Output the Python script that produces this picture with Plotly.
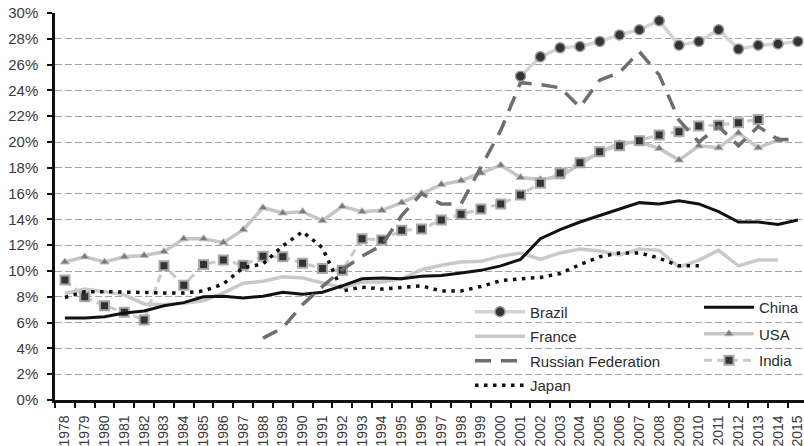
import plotly.graph_objects as go

years = [str(y) for y in range(1978, 2016)]
N = None

brazil = [N]*23 + [25.1, 26.6, 27.3, 27.4, 27.8, 28.3, 28.7, 29.4, 27.5, 27.8, 28.7, 27.2, 27.5, 27.6, 27.8]
china = [6.35, 6.35, 6.45, 6.75, 6.9, 7.3, 7.55, 8.0, 8.05, 7.9, 8.05, 8.35, 8.2, 8.35, 8.85, 9.4, 9.45, 9.4,
         9.6, 9.65, 9.85, 10.05, 10.4, 10.9, 12.5, 13.2, 13.8, 14.3, 14.8, 15.3, 15.2, 15.45, 15.2, 14.6,
         13.8, 13.8, 13.6, 13.95]
france = [8.25, 8.6, 8.4, 8.15, 7.45, 7.4, 7.5, 7.7, 8.3, 9.05, 9.2, 9.55, 9.45, 9.1, 8.7, 9.15, 9.15, 9.4,
          10.1, 10.45, 10.7, 10.75, 11.15, 11.4, 10.9, 11.4, 11.7, 11.55, 11.25, 11.7, 11.6, 10.3, 10.85,
          11.6, 10.4, 10.85, 10.85, N]
usa = [10.7, 11.1, 10.7, 11.1, 11.2, 11.5, 12.5, 12.5, 12.2, 13.2, 14.9, 14.5, 14.6, 13.9, 15.0, 14.6, 14.7,
       15.3, 16.0, 16.7, 17.0, 17.6, 18.2, 17.25, 17.1, 17.3, 18.3, 19.2, 19.9, 20.0, 19.5, 18.6, 19.7,
       19.55, 20.7, 19.55, 20.15, N]
russia = [N]*10 + [4.8, 5.6, 7.4, 8.8, 10.1, 11.15, 12.0, 14.3, 16.0, 15.2, 15.2, 18.1, 20.9, 24.6, 24.45,
                   24.2, 22.7, 24.8, 25.4, 27.0, 25.2, 21.7, 20.0, 21.2, 19.7, 21.2, 20.2, 20.2]
india = [9.3, 8.0, 7.3, 6.8, 6.2, 10.4, 8.9, 10.5, 10.85, 10.45, 11.15, 11.1, 10.6, 10.2, 10.05, 12.5, 12.4,
         13.15, 13.25, 13.95, 14.4, 14.8, 15.2, 15.9, 16.8, 17.6, 18.4, 19.25, 19.7, 20.1, 20.55, 20.8,
         21.25, 21.3, 21.5, 21.75, N, N]
japan = [7.95, 8.4, 8.4, 8.35, 8.3, 8.3, 8.3, 8.45, 9.0, 10.25, 10.55, 11.95, 13.05, 11.8, 8.45, 8.75, 8.6,
         8.75, 8.85, 8.45, 8.45, 8.8, 9.25, 9.4, 9.5, 9.8, 10.5, 11.1, 11.4, 11.4, 11.0, 10.4, 10.4,
         N, N, N, N, N]

fig = go.Figure()

fig.add_trace(go.Scatter(x=years, y=france, name="France", mode="lines",
                         line=dict(color="#c9c9c9", width=3.5),
                         legend="legend", legendgroup="France", legendrank=2))
fig.add_trace(go.Scatter(x=years, y=usa, name="USA", mode="lines+markers",
                         line=dict(color="#c6c6c6", width=3.5),
                         marker=dict(symbol="triangle-up", size=8, color="#7a7a7a",
                                     line=dict(color="#bdbdbd", width=1)),
                         legend="legend2", legendgroup="USA", legendrank=2))
fig.add_trace(go.Scatter(x=years, y=india, name="India", mode="lines+markers",
                         line=dict(color="#c9c9c9", width=3, dash="8px,5px"),
                         marker=dict(symbol="square", size=9, color="#333333",
                                     line=dict(color="#a8a8a8", width=2)),
                         legend="legend2", legendgroup="India", legendrank=3))
fig.add_trace(go.Scatter(x=years, y=japan, name="Japan", mode="lines",
                         line=dict(color="#111111", width=3.5, dash="3.5px,5.5px"),
                         legend="legend", legendgroup="Japan", legendrank=4))
fig.add_trace(go.Scatter(x=years, y=china, name="China", mode="lines",
                         line=dict(color="#111111", width=3),
                         legend="legend2", legendgroup="China", legendrank=1))
fig.add_trace(go.Scatter(x=years, y=russia, name="Russian Federation", mode="lines",
                         line=dict(color="#6e6e6e", width=3.5, dash="16px,10px"),
                         legend="legend", legendgroup="Russia", legendrank=3))
fig.add_trace(go.Scatter(x=years, y=brazil, name="Brazil", mode="lines+markers",
                         line=dict(color="#d4d4d4", width=3.5),
                         marker=dict(symbol="circle", size=10, color="#333333",
                                     line=dict(color="#9a9a9a", width=1.5)),
                         legend="legend", legendgroup="Brazil", legendrank=1))

L, R, T, B = 55, 0, 13, 46
W, H = 804, 446
pw = W - L - R
ph = H - T - B

legend_common = dict(bgcolor="rgba(0,0,0,0)", borderwidth=0, itemwidth=50,
                     font=dict(family="Liberation Sans, Arial, sans-serif", size=15, color="#2b2b2b"),
                     traceorder="grouped", xanchor="left", yanchor="top",
                     itemclick=False, itemdoubleclick=False)

fig.update_layout(
    template="none",
    width=W, height=H,
    margin=dict(l=L, r=R, t=T, b=B, autoexpand=False),
    paper_bgcolor="white", plot_bgcolor="white",
    font=dict(family="Liberation Sans, Arial, sans-serif", color="#3a3a3a"),
    showlegend=True,
    legend=dict(x=(470 - L) / pw, y=(400 - 295.5) / ph, tracegroupgap=2, **legend_common),
    legend2=dict(x=(699 - L) / pw, y=(400 - 291) / ph, tracegroupgap=4, **legend_common),
    xaxis=dict(type="category", range=[-0.5, 37.31], showgrid=False, zeroline=False,
               automargin=False,
               showline=True, linecolor="#111111", linewidth=2.5,
               ticks="outside", ticklen=5, tickwidth=1.5, tickcolor="#111111",
               tickson="boundaries", tickangle=-90, ticklabelstandoff=7,
               tickfont=dict(size=14, color="#3a3a3a")),
    yaxis=dict(range=[0, 30], dtick=2, tick0=0, ticksuffix="%",
               automargin=False,
               showgrid=True, gridcolor="#a3a3a3", gridwidth=1, griddash="7px,3px",
               zeroline=False, showline=True, linecolor="#111111", linewidth=2.5,
               ticks="outside", ticklen=5, tickwidth=1.5, tickcolor="#111111",
               ticklabelstandoff=6, tickfont=dict(size=15, color="#3a3a3a")),
)

fig.write_html("out.html", config={"displayModeBar": False},
               post_script="document.body.style.margin='0';document.body.style.overflow='hidden';")
